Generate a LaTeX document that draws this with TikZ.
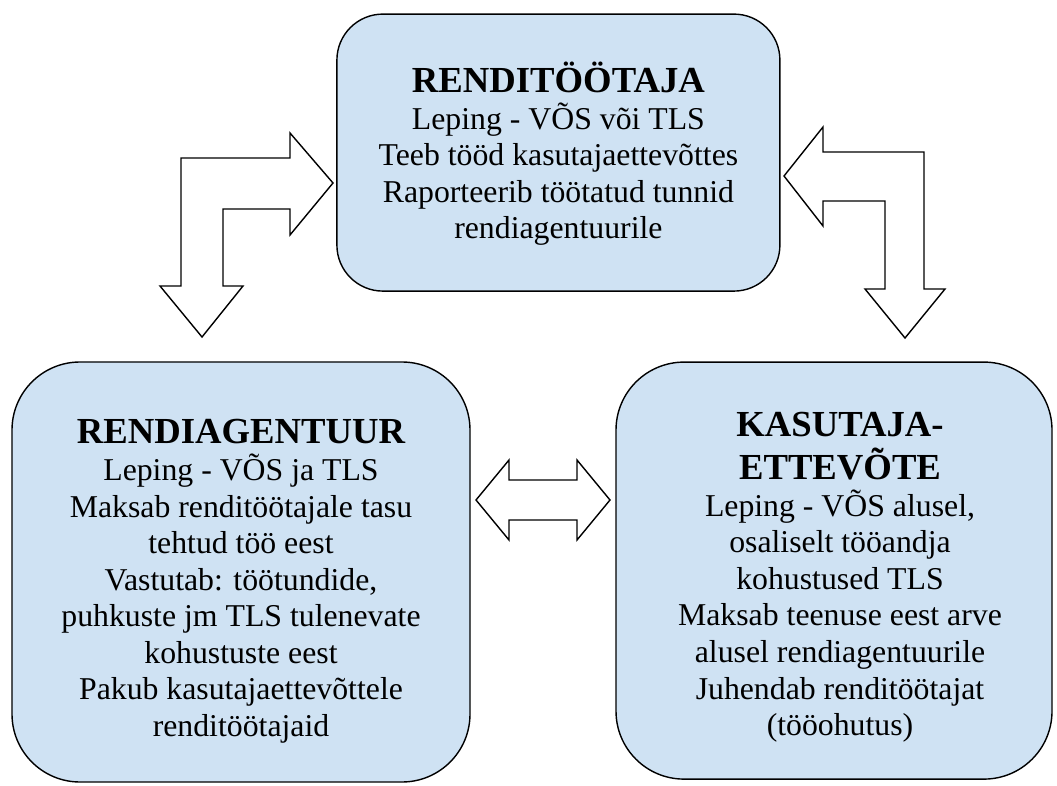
\documentclass[tikz,border=0pt]{standalone}
\usepackage{fontspec}
\setmainfont{Liberation Serif}
\usepackage{tikz}

\definecolor{boxblue}{RGB}{207,226,243}
\newcommand{\boxtitle}[1]{{\fontsize{26.1pt}{26pt}\selectfont\bfseries #1}}

\begin{document}
\begin{tikzpicture}[
		box/.style = {draw, line width=1pt, fill=boxblue},
		boxtext/.style = {align=center, inner sep=0pt, font=\fontsize{22.6pt}{26pt}\selectfont},
		blockarrow/.style = {draw, line width=1pt, fill=white, line join=miter}
	]
		\useasboundingbox (0, 0) rectangle (26.425, 19.625);

		\node (renditootaja) at (13.96, 15.81) [box, rounded corners=1.15cm, minimum width=11.075cm, minimum height=6.925cm] {};
		\node (renditootajatxt) at (13.96, 15.775) [boxtext] {\boxtitle{RENDITÖÖTAJA}\\ Leping - VÕS või TLS\\ Teeb tööd kasutajaettevõttes\\ Raporteerib töötatud tunnid\\ rendiagentuurile};

		\node (agentuur) at (6.025, 5.325) [box, rounded corners=1.7cm, minimum width=11.45cm, minimum height=10.5cm] {};
		\node (agentuurtxt) at (6.025, 5.09) [boxtext] {\boxtitle{RENDIAGENTUUR}\\ Leping - VÕS ja TLS\\ Maksab renditöötajale tasu\\ tehtud töö eest\\ Vastutab: töötundide,\\ puhkuste jm TLS tulenevate\\ kohustuste eest\\ Pakub kasutajaettevõttele\\ renditöötajaid};

		\node (kasutaja) at (20.85, 5.36) [box, rounded corners=1.7cm, minimum width=10.9cm, minimum height=10.425cm] {};
		\node (kasutajatxt) at (21.0, 5.19) [boxtext] {\boxtitle{KASUTAJA-}\\[0.16cm] \boxtitle{ETTEVÕTE}\\ Leping - VÕS alusel,\\ osaliselt tööandja\\ kohustused TLS\\ Maksab teenuse eest arve\\ alusel rendiagentuurile\\ Juhendab renditöötajat\\ (tööohutus)};

		\draw [blockarrow] (8.325, 15.05) -- (7.25, 16.3) -- (7.25, 15.675) -- (4.525, 15.675) -- (4.525, 12.475) -- (4.0, 12.475) -- (5.05, 11.2) -- (6.075, 12.475) -- (5.575, 12.475) -- (5.575, 14.4) -- (7.25, 14.4) -- (7.25, 13.75) -- cycle;
		\draw [blockarrow] (19.6, 15.225) -- (20.575, 16.45) -- (20.575, 15.825) -- (23.1, 15.825) -- (23.1, 12.4) -- (23.625, 12.4) -- (22.625, 11.175) -- (21.625, 12.4) -- (22.125, 12.4) -- (22.125, 14.6) -- (20.575, 14.6) -- (20.575, 13.975) -- cycle;
		\draw [blockarrow] (11.9, 7.125) -- (12.725, 8.125) -- (12.725, 7.625) -- (14.425, 7.625) -- (14.425, 8.125) -- (15.25, 7.125) -- (14.425, 6.125) -- (14.425, 6.625) -- (12.725, 6.625) -- (12.725, 6.125) -- cycle;
	\end{tikzpicture}
\end{document}
